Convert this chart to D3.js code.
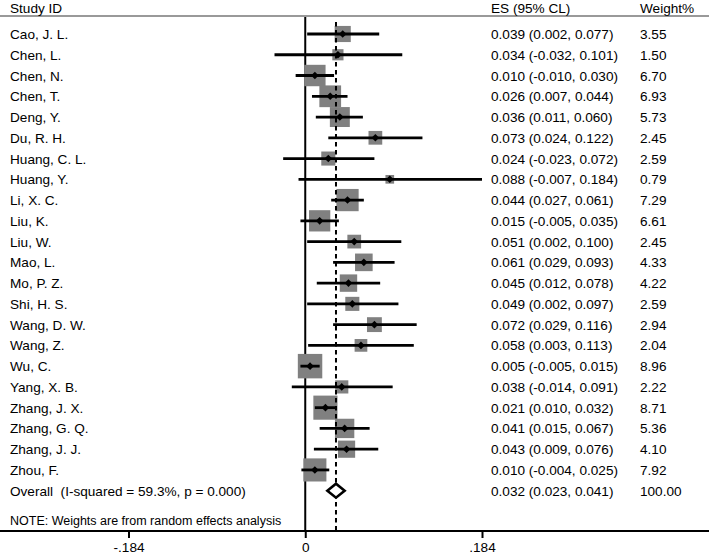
<!DOCTYPE html>
<html><head><meta charset="utf-8">
<script src="https://cdn.jsdelivr.net/npm/d3@7"></script>
<style>
html,body{margin:0;padding:0;background:#fff;}
svg{display:block;font-family:"Liberation Sans",Arial,Helvetica,sans-serif;}
</style></head>
<body>
<svg id="c" width="709" height="557"></svg>
<script>
const studies = ["Cao, J. L.","Chen, L.","Chen, N.","Chen, T.","Deng, Y.","Du, R. H.","Huang, C. L.","Huang, Y.","Li, X. C.","Liu, K.","Liu, W.","Mao, L.","Mo, P. Z.","Shi, H. S.","Wang, D. W.","Wang, Z.","Wu, C.","Yang, X. B.","Zhang, J. X.","Zhang, G. Q.","Zhang, J. J.","Zhou, F."];
const es     = [0.039,0.034,0.010,0.026,0.036,0.073,0.024,0.088,0.044,0.015,0.051,0.061,0.045,0.049,0.072,0.058,0.005,0.038,0.021,0.041,0.043,0.010];
const lower  = [0.002,-0.032,-0.010,0.007,0.011,0.024,-0.023,-0.007,0.027,-0.005,0.002,0.029,0.012,0.002,0.029,0.003,-0.005,-0.014,0.010,0.015,0.009,-0.004];
const upper  = [0.077,0.101,0.030,0.044,0.060,0.122,0.072,0.184,0.061,0.035,0.100,0.093,0.078,0.097,0.116,0.113,0.015,0.091,0.032,0.067,0.076,0.025];
const weights= [3.55,1.50,6.70,6.93,5.73,2.45,2.59,0.79,7.29,6.61,2.45,4.33,4.22,2.59,2.94,2.04,8.96,2.22,8.71,5.36,4.10,7.92];
const overallLabel = "Overall  (I-squared = 59.3%, p = 0.000)";
const overall = {es:0.032, lo:0.023, hi:0.041, w:100.00};
const tickValues = [-0.184, 0, 0.184];
const tickLabels = ["-.184","0",".184"];
const headers = ["Study ID","ES (95% CL)","Weight%"];
const note = "NOTE: Weights are from random effects analysis";

const svg = d3.select("#c");
const W = 709, H = 557;
const fs = "13.6px";
const x = d3.scaleLinear().domain([-0.184, 0.184]).range([128.5, 482]);
const y = d3.scaleLinear().domain([0, studies.length]).range([34, 490.7]);
const side = d3.scaleSqrt().domain([0, 1]).range([0, 7.5]);
const f3 = v => d3.format(".3f")(v).replace("\u2212","-");
const f2 = d3.format(".2f");
const axisY = 531, topY = 17;
const colLabel = 10, colES = 491, colW = 640;

// header
svg.append("line").attr("x1",0).attr("x2",W).attr("y1",16).attr("y2",16)
  .attr("stroke","#999").attr("stroke-width",2);
[colLabel, colES, colW].forEach((cx,i)=>{
  svg.append("text").attr("x",cx).attr("y",13).attr("font-size",fs).text(headers[i]);
});

// zero line
svg.append("line").attr("x1",x(0)).attr("x2",x(0)).attr("y1",topY).attr("y2",axisY)
  .attr("stroke","#000").attr("stroke-width",2);

const rows = studies.map((s,i)=>({s, es:es[i], lo:lower[i], hi:upper[i], w:weights[i], i}));

// squares
svg.append("g").selectAll("rect").data(rows).join("rect")
  .attr("x", d=>x(d.es) - (side(d.w)+2)/2)
  .attr("y", d=>y(d.i) - (side(d.w)+2)/2)
  .attr("width", d=>side(d.w)+2).attr("height", d=>side(d.w)+2)
  .attr("fill","#808080");

// overall dashed line
svg.append("line").attr("x1",x(overall.es)).attr("x2",x(overall.es))
  .attr("y1",topY+5).attr("y2",axisY)
  .attr("stroke","#000").attr("stroke-width",2).attr("stroke-dasharray","4.5,3.5");

// CI lines
svg.append("g").selectAll("line").data(rows).join("line")
  .attr("x1", d=>x(d.lo)).attr("x2", d=>x(d.hi))
  .attr("y1", d=>y(d.i)).attr("y2", d=>y(d.i))
  .attr("stroke","#000").attr("stroke-width",2.8);

// point markers
svg.append("g").selectAll("path").data(rows).join("path")
  .attr("d", d=>{const cx=x(d.es), cy=y(d.i), r=3.8; return `M${cx},${cy-r}L${cx+r},${cy}L${cx},${cy+r}L${cx-r},${cy}Z`;})
  .attr("fill","#000");

// overall diamond
const oy = y(studies.length);
svg.append("path")
  .attr("d", `M${x(overall.lo)},${oy}L${x(overall.es)},${oy-7}L${x(overall.hi)},${oy}L${x(overall.es)},${oy+7}Z`)
  .attr("fill","#fff").attr("stroke","#000").attr("stroke-width",2.6).attr("stroke-linejoin","miter");

// text columns
const tg = svg.append("g").attr("font-size",fs);
rows.forEach(d=>{
  const ty = y(d.i)+5;
  tg.append("text").attr("x",colLabel).attr("y",ty).text(d.s);
  tg.append("text").attr("x",colES).attr("y",ty).text(`${f3(d.es)} (${f3(d.lo)}, ${f3(d.hi)})`);
  tg.append("text").attr("x",colW).attr("y",ty).text(f2(d.w));
});
tg.append("text").attr("x",colLabel).attr("y",oy+5).attr("xml:space","preserve").style("white-space","pre").text(overallLabel);
tg.append("text").attr("x",colES).attr("y",oy+5).text(`${f3(overall.es)} (${f3(overall.lo)}, ${f3(overall.hi)})`);
tg.append("text").attr("x",colW).attr("y",oy+5).text(f2(overall.w));
tg.append("text").attr("x",colLabel).attr("y",525).attr("font-size","12.5px").text(note);

// axis
svg.append("line").attr("x1",0).attr("x2",W).attr("y1",axisY).attr("y2",axisY)
  .attr("stroke","#000").attr("stroke-width",2);
const axis = d3.axisBottom(x).tickValues(tickValues).tickFormat((d,i)=>tickLabels[i]).tickSize(7).tickPadding(4);
const ag = svg.append("g").attr("transform",`translate(0,${axisY})`).call(axis);
ag.select(".domain").remove();
ag.selectAll(".tick line").attr("stroke","#000").attr("stroke-width",2);
ag.selectAll(".tick text").attr("font-size",fs).attr("font-family","Liberation Sans, Arial, sans-serif").attr("fill","#000");
</script>
</body></html>
